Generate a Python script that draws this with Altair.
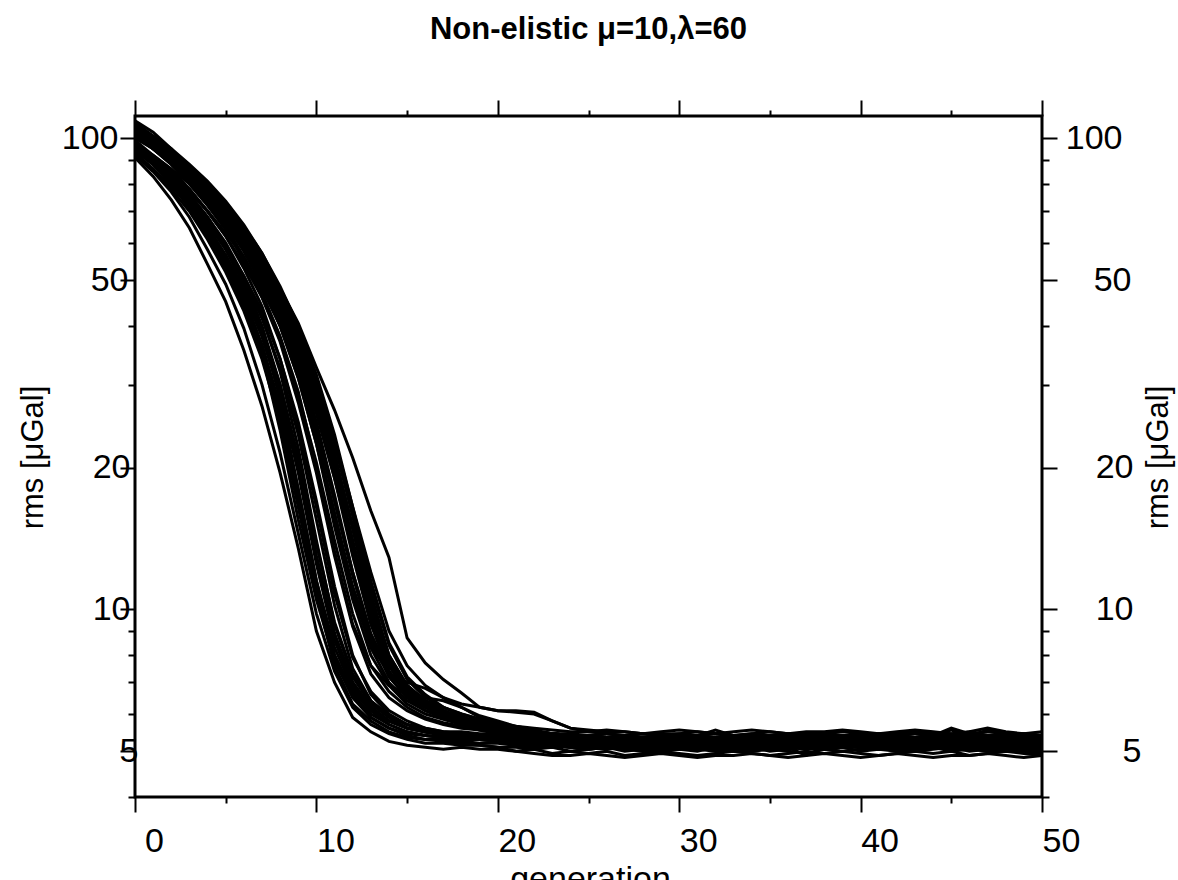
import altair as alt
import pandas as pd

FONT = "Liberation Sans"

generation = list(range(51))
x_ticks = [0, 5, 10, 15, 20, 25, 30, 35, 40, 45, 50]
y_ticks = [4, 5, 6, 7, 8, 9, 10, 20, 30, 40, 50, 60, 70, 80, 90, 100]

run01 = [91, 83, 74, 64.5, 54, 45, 35.5, 27, 19.5, 13.5, 9.0, 7.0, 5.9, 5.5, 5.25, 5.15, 5.1, 5.05, 5.1, 5.05,
         5.05, 5.0, 5.05, 4.95, 5.0, 4.95, 5.0, 4.9, 4.95, 5.0,
         4.95, 4.9, 4.95, 5.0, 4.95, 4.9, 4.95, 5.0, 4.95, 5.0,
         4.95, 4.9, 4.95, 5.0, 4.95, 5.0, 4.9, 4.95, 5.0, 4.95, 4.9]
run02 = [93, 86, 79, 72, 64, 55, 46, 35, 24, 15.5, 10.5, 7.8, 6.6, 5.9, 5.6, 5.4, 5.3, 5.3, 5.25, 5.2,
         5.2, 5.15, 5.1, 5.15, 5.1, 5.05, 5.1, 5.15, 5.1, 5.05,
         5.1, 5.15, 5.05, 5.1, 5.1, 5.05, 5.15, 5.1, 5.05, 5.1,
         5.15, 5.1, 5.05, 5.1, 5.15, 5.1, 5.05, 5.1, 5.05, 5.1, 5.05]
run03 = [95, 88, 81, 73, 66, 58, 49, 39, 28, 18, 11.5, 8.3, 6.8, 6.1, 5.7, 5.5, 5.4, 5.35, 5.3, 5.3,
         5.25, 5.2, 5.25, 5.2, 5.15, 5.2, 5.25, 5.15, 5.2, 5.2,
         5.15, 5.2, 5.25, 5.15, 5.2, 5.15, 5.2, 5.1, 5.2, 5.25,
         5.2, 5.15, 5.2, 5.25, 5.15, 5.2, 5.2, 5.15, 5.2, 5.15, 5.1]
run04 = [97, 90, 83, 76, 68, 60, 51, 42, 32, 22, 14, 9.3, 7.2, 6.3, 5.9, 5.6, 5.5, 5.45, 5.4, 5.35,
         5.3, 5.3, 5.25, 5.2, 5.25, 5.3, 5.2, 5.25, 5.3, 5.25,
         5.2, 5.25, 5.3, 5.2, 5.25, 5.2, 5.3, 5.25, 5.2, 5.25,
         5.3, 5.25, 5.2, 5.25, 5.3, 5.25, 5.2, 5.25, 5.3, 5.2, 5.25]
run05 = [99, 92, 86, 78, 70, 62, 53, 44, 34, 24.5, 16.5, 10.8, 7.9, 6.7, 6.1, 5.8, 5.6, 5.5, 5.45, 5.4,
         5.35, 5.3, 5.35, 5.3, 5.25, 5.3, 5.35, 5.3, 5.25, 5.3,
         5.35, 5.3, 5.25, 5.3, 5.35, 5.25, 5.3, 5.3, 5.25, 5.3,
         5.35, 5.3, 5.25, 5.3, 5.3, 5.35, 5.3, 5.25, 5.3, 5.35, 5.3]
run06 = [97, 89, 81, 73, 64, 56, 47, 38, 28.5, 19.5, 12.5, 8.6, 6.9, 6.2, 5.8, 5.6, 5.5, 5.45, 5.45, 5.4,
         5.4, 5.35, 5.3, 5.25, 5.2, 5.25, 5.2, 5.15, 5.2, 5.25,
         5.2, 5.15, 5.2, 5.2, 5.15, 5.25, 5.2, 5.15, 5.2, 5.2,
         5.25, 5.2, 5.15, 5.2, 5.2, 5.25, 5.2, 5.15, 5.2, 5.2, 5.15]
run07 = [102, 95, 88, 80, 72, 64, 55, 46, 37, 27.5, 19.5, 13, 9.2, 7.3, 6.5, 6.1, 5.85, 5.7, 5.6, 5.55,
         5.5, 5.45, 5.4, 5.4, 5.35, 5.4, 5.35, 5.3, 5.35, 5.4,
         5.35, 5.3, 5.35, 5.4, 5.35, 5.3, 5.35, 5.35, 5.3, 5.35,
         5.4, 5.35, 5.3, 5.35, 5.4, 5.3, 5.35, 5.35, 5.3, 5.35, 5.3]
run08 = [98, 91, 85, 78, 70, 62, 54, 46, 37.5, 28.5, 20.5, 14, 9.8, 7.6, 6.7, 6.2, 5.9, 5.75, 5.65, 5.55,
         5.5, 5.4, 5.35, 5.3, 5.2, 5.15, 5.2, 5.15, 5.1, 5.15,
         5.2, 5.1, 5.15, 5.2, 5.1, 5.15, 5.1, 5.05, 5.15, 5.1,
         5.15, 5.2, 5.1, 5.15, 5.1, 5.15, 5.2, 5.1, 5.15, 5.1, 5.05]
run09 = [104, 98, 92, 85, 78, 70, 62, 54, 45.5, 37, 28.5, 21, 15, 10.5, 7.9, 6.8, 6.3, 6.0, 5.8, 5.65,
         5.5, 5.45, 5.4, 5.35, 5.3, 5.3, 5.25, 5.3, 5.25, 5.2,
         5.25, 5.3, 5.25, 5.2, 5.25, 5.3, 5.2, 5.25, 5.3, 5.25,
         5.2, 5.25, 5.3, 5.25, 5.2, 5.25, 5.2, 5.3, 5.25, 5.2, 5.25]
run10 = [101, 95, 89, 82, 75, 67, 59, 50, 41, 32, 23, 16, 11, 8.3, 7.0, 6.4, 6.1, 5.9, 5.75, 5.65,
         5.55, 5.5, 5.45, 5.45, 5.4, 5.4, 5.35, 5.4, 5.45, 5.4,
         5.35, 5.4, 5.55, 5.4, 5.35, 5.4, 5.45, 5.4, 5.35, 5.4,
         5.4, 5.45, 5.4, 5.35, 5.4, 5.6, 5.45, 5.4, 5.45, 5.4, 5.35]
run11 = [106, 99, 92, 85, 77, 69, 60, 51, 42, 33, 24.5, 17, 11.8, 8.7, 7.2, 6.5, 6.2, 5.95, 5.8, 5.7,
         5.6, 5.5, 5.45, 5.4, 5.35, 5.3, 5.35, 5.3, 5.3, 5.25,
         5.3, 5.35, 5.3, 5.25, 5.3, 5.35, 5.3, 5.25, 5.3, 5.35,
         5.3, 5.3, 5.25, 5.3, 5.35, 5.3, 5.25, 5.3, 5.35, 5.3, 5.25]
run12 = [96, 90, 84, 77, 70, 63, 56, 48, 40, 31, 22.5, 15, 10.5, 8.0, 6.9, 6.3, 6.0, 5.85, 5.7, 5.6,
         5.5, 5.4, 5.3, 5.25, 5.2, 5.2, 5.15, 5.1, 5.15, 5.2,
         5.15, 5.1, 5.15, 5.1, 5.2, 5.15, 5.1, 4.9, 5.1, 5.15,
         5.2, 5.15, 5.1, 5.15, 5.2, 5.1, 5.15, 5.1, 5.15, 5.2, 5.1]
run13 = [99, 91, 83, 74, 65, 55, 46, 36.5, 27, 18, 11.5, 8.0, 6.6, 6.0, 5.7, 5.5, 5.4, 5.35, 5.35, 5.3,
         5.3, 5.25, 5.2, 5.15, 5.1, 5.05, 5.1, 5.05, 5.0, 5.05,
         5.1, 5.05, 5.0, 5.05, 5.1, 5.0, 5.05, 5.1, 5.05, 5.0,
         5.05, 5.1, 5.05, 5.0, 5.05, 5.1, 5.0, 5.05, 5.0, 5.05, 5.0]
run14 = [102, 96, 90, 84, 77, 69.5, 61.5, 53, 44.5, 36, 27.5, 20, 14, 9.8, 7.6, 6.7, 6.3, 6.0, 5.8, 5.65,
         5.5, 5.45, 5.4, 5.35, 5.3, 5.25, 5.3, 5.25, 5.2, 5.25,
         5.3, 5.2, 5.25, 5.3, 5.25, 5.2, 5.25, 5.3, 5.2, 5.25,
         5.25, 5.3, 5.2, 5.25, 5.3, 5.25, 5.2, 5.25, 5.3, 5.25, 5.2]
run15 = [94, 88, 81, 74, 67, 59, 51, 43, 34, 25, 17, 11.2, 8.0, 6.6, 6.0, 5.7, 5.5, 5.4, 5.35, 5.3,
         5.25, 5.2, 5.15, 5.1, 5.15, 5.1, 5.05, 5.1, 5.15, 5.1,
         5.05, 5.1, 5.15, 5.05, 5.1, 5.1, 5.15, 5.05, 5.1, 5.15,
         5.1, 5.05, 5.1, 5.15, 5.1, 5.05, 5.1, 5.1, 5.05, 5.1, 5.15]
run16 = [96, 88, 80, 71, 62, 53, 44, 35, 25.5, 16.8, 10.8, 7.6, 6.3, 5.8, 5.5, 5.35, 5.3, 5.25, 5.2, 5.15,
         5.1, 5.0, 4.95, 4.9, 4.9, 4.95, 4.9, 4.85, 4.9, 4.95,
         4.9, 4.85, 4.9, 4.9, 4.95, 4.9, 4.85, 4.9, 4.95, 4.9,
         4.85, 4.9, 4.95, 4.9, 4.85, 4.9, 4.9, 4.95, 4.9, 4.85, 4.9]
run17 = [105, 98, 91, 84, 76, 68, 60, 51, 42.5, 34, 26, 19, 13.5, 9.6, 7.6, 6.7, 6.3, 6.0, 5.85, 5.75,
         5.65, 5.55, 5.5, 5.45, 5.4, 5.4, 5.35, 5.4, 5.35, 5.3,
         5.35, 5.4, 5.35, 5.3, 5.35, 5.4, 5.35, 5.3, 5.35, 5.35,
         5.4, 5.35, 5.3, 5.35, 5.4, 5.35, 5.3, 5.35, 5.4, 5.35, 5.3]
run18 = [108, 101, 94, 87, 80, 72, 64, 55, 46, 37, 28.5, 21, 15, 10.5, 8.0, 6.9, 6.4, 6.1, 5.9, 5.8,
         5.7, 5.6, 5.5, 5.45, 5.4, 5.35, 5.3, 5.35, 5.3, 5.25,
         5.3, 5.35, 5.3, 5.25, 5.3, 5.3, 5.35, 5.25, 5.3, 5.35,
         5.3, 5.25, 5.3, 5.35, 5.3, 5.25, 5.3, 5.35, 5.3, 5.25, 5.3]
run19 = [107, 101, 94, 87, 80, 73, 65, 57, 48, 38, 30, 23, 16.5, 12, 9.0, 7.6, 6.9, 6.5, 6.2, 5.95,
         5.8, 5.65, 5.55, 5.45, 5.4, 5.35, 5.3, 5.25, 5.2, 5.25,
         5.2, 5.15, 5.2, 5.25, 5.2, 5.15, 5.2, 5.2, 5.25, 5.2,
         5.15, 5.2, 5.25, 5.2, 5.15, 5.2, 5.25, 5.2, 5.15, 5.2, 5.2]
run20 = [109, 103, 95, 86, 79, 71, 63, 55.5, 48, 40.5, 32.6, 26.5, 21, 16.2, 12.9, 8.7, 7.7, 7.1, 6.65, 6.2,
         6.1, 6.1, 6.05, 5.8, 5.6, 5.55, 5.5, 5.5, 5.45, 5.45,
         5.45, 5.5, 5.45, 5.4, 5.45, 5.5, 5.45, 5.4, 5.45, 5.5,
         5.45, 5.4, 5.45, 5.5, 5.45, 5.4, 5.45, 5.5, 5.45, 5.45, 5.4]
run21 = [92, 85, 77, 68, 58, 49, 39.5, 30, 21.5, 14.5, 9.8, 7.4, 6.2, 5.7, 5.45, 5.3, 5.2, 5.2, 5.15, 5.15,
         5.1, 5.1, 5.05, 5.1, 5.0, 5.05, 5.1, 5.0, 5.05, 5.0,
         5.05, 5.0, 5.1, 5.05, 5.0, 5.05, 5.0, 4.95, 5.05, 5.1,
         5.0, 5.05, 5.0, 5.05, 5.1, 5.0, 5.05, 5.0, 5.05, 5.0, 4.95]
run22 = [97, 91, 84, 76, 68, 59, 50, 40, 30, 20.5, 13, 8.8, 7.0, 6.2, 5.8, 5.6, 5.5, 5.4, 5.35, 5.3,
         5.25, 5.2, 5.2, 5.15, 5.1, 5.15, 5.2, 5.15, 5.1, 5.15,
         5.2, 5.15, 5.1, 5.15, 5.15, 5.2, 5.1, 5.15, 5.2, 5.15,
         5.1, 5.15, 5.2, 5.15, 5.1, 5.15, 5.2, 5.15, 5.1, 5.15, 5.1]
run23 = [106, 100, 94, 87, 80, 72.5, 64.5, 56, 47.5, 39, 30.5, 22.5, 15.8, 10.8, 8.0, 6.9, 6.4, 6.0, 5.75, 5.55,
         5.45, 5.4, 5.4, 5.35, 5.3, 5.35, 5.3, 5.25, 5.3, 5.35,
         5.3, 5.25, 5.3, 5.35, 5.3, 5.25, 5.3, 5.35, 5.3, 5.3,
         5.35, 5.3, 5.25, 5.3, 5.35, 5.3, 5.3, 5.25, 5.3, 5.35, 5.3]
run24 = [95, 88, 80, 72, 63, 54, 45, 36, 26.5, 17.5, 11.2, 8.0, 6.7, 6.1, 5.8, 5.6, 5.5, 5.45, 5.4, 5.4,
         5.4, 5.35, 5.3, 5.25, 5.2, 5.25, 5.2, 5.15, 5.2, 5.25,
         5.2, 5.2, 5.15, 5.2, 5.25, 5.2, 5.15, 5.2, 5.2, 5.25,
         5.2, 5.15, 5.2, 5.25, 5.2, 5.15, 5.2, 5.25, 5.2, 5.15, 5.2]
run25 = [103, 97, 90, 83, 75, 67, 58, 49, 40.5, 32, 24, 17, 12, 8.9, 7.4, 6.6, 6.2, 5.95, 5.8, 5.7,
         5.6, 5.55, 5.5, 5.45, 5.45, 5.4, 5.45, 5.4, 5.35, 5.4,
         5.45, 5.4, 5.35, 5.4, 5.45, 5.4, 5.35, 5.4, 5.45, 5.4,
         5.4, 5.35, 5.4, 5.45, 5.4, 5.55, 5.4, 5.55, 5.45, 5.4, 5.4]
run26 = [93, 86, 78, 70, 61, 52, 43, 34, 25, 16.5, 10.8, 7.8, 6.5, 5.9, 5.6, 5.45, 5.4, 5.35, 5.3, 5.3,
         5.3, 5.25, 5.2, 5.15, 5.1, 5.15, 5.1, 5.05, 5.1, 5.15,
         5.1, 5.05, 5.1, 5.15, 5.1, 5.05, 5.1, 5.1, 5.05, 5.1,
         5.15, 5.1, 5.05, 5.1, 5.15, 5.1, 5.05, 5.1, 5.15, 5.1, 5.05]
run27 = [104, 97, 90, 83, 75, 67, 58, 49, 40, 31, 22.5, 15.5, 10.8, 8.4, 7.3, 7.0, 6.8, 6.5, 6.3, 6.2,
         6.1, 6.05, 6.0, 5.8, 5.6, 5.5, 5.45, 5.4, 5.45, 5.4,
         5.35, 5.4, 5.45, 5.4, 5.35, 5.4, 5.4, 5.45, 5.4, 5.35,
         5.4, 5.45, 5.4, 5.35, 5.4, 5.45, 5.4, 5.35, 5.4, 5.45, 5.4]
run28 = [101, 96, 90, 83, 76, 68.5, 60.5, 52, 43.5, 35, 26.5, 19.5, 13.8, 9.9, 7.7, 6.8, 6.4, 6.1, 5.85, 5.65,
         5.55, 5.5, 5.45, 5.4, 5.35, 5.3, 5.3, 5.25, 5.3, 5.25,
         5.2, 5.25, 5.3, 5.25, 5.2, 5.25, 5.3, 5.25, 5.2, 5.25,
         5.3, 5.25, 5.2, 5.25, 5.3, 5.25, 5.2, 5.25, 5.3, 5.25, 5.2]
run29 = [96, 89, 81, 73, 64, 55.5, 47, 38, 29, 20, 13, 8.9, 7.0, 6.2, 5.8, 5.6, 5.5, 5.45, 5.4, 5.4,
         5.35, 5.3, 5.3, 5.25, 5.2, 5.25, 5.2, 5.2, 5.15, 5.2,
         5.25, 5.2, 5.15, 5.2, 5.2, 5.25, 5.15, 5.2, 5.25, 5.2,
         5.15, 5.2, 5.2, 5.25, 5.2, 5.15, 5.2, 5.2, 5.25, 5.2, 5.15]
run30 = [107, 101, 95, 88, 81, 73.5, 65.5, 57, 48.5, 40, 31.5, 23.5, 16.5, 11.5, 8.5, 7.2, 6.6, 6.2, 5.95, 5.65,
         5.45, 5.4, 5.35, 5.35, 5.3, 5.3, 5.25, 5.3, 5.3, 5.25,
         5.3, 5.25, 5.3, 5.3, 5.25, 5.2, 5.25, 5.3, 5.25, 5.3,
         5.25, 5.3, 5.25, 5.2, 5.25, 5.3, 5.25, 5.3, 5.25, 5.2, 5.25]
run31 = [98, 90, 82, 74, 65, 56.5, 48, 39, 30, 21, 13.8, 9.4, 7.3, 6.4, 5.95, 5.7, 5.6, 5.5, 5.5, 5.45,
         5.45, 5.4, 5.35, 5.3, 5.3, 5.25, 5.3, 5.25, 5.2, 5.25,
         5.3, 5.25, 5.2, 5.25, 5.3, 5.2, 5.25, 5.3, 5.25, 5.2,
         5.25, 5.3, 5.25, 5.2, 5.25, 5.3, 5.2, 5.25, 5.3, 5.25, 5.2]
run32 = [103, 96, 89, 82, 74, 66, 57.5, 49, 40, 31.5, 23, 16, 11.2, 8.6, 7.3, 6.7, 6.5, 6.4, 6.2, 5.9,
         5.75, 5.6, 5.5, 5.45, 5.4, 5.4, 5.35, 5.35, 5.3, 5.35,
         5.4, 5.35, 5.3, 5.35, 5.4, 5.35, 5.3, 5.35, 5.4, 5.35,
         5.3, 5.35, 5.4, 5.35, 5.3, 5.35, 5.4, 5.35, 5.3, 5.35, 5.4]
run33 = [96, 89, 82, 75, 67, 59, 50, 41.5, 32.5, 23.5, 15.5, 10.2, 7.5, 6.4, 5.95, 5.7, 5.55, 5.45, 5.4, 5.35,
         5.3, 5.25, 5.2, 5.2, 5.15, 5.1, 5.15, 5.1, 5.05, 5.1,
         5.15, 5.1, 5.05, 5.1, 5.15, 5.1, 5.05, 5.1, 5.1, 5.15,
         5.1, 5.05, 5.1, 5.15, 5.1, 5.05, 5.1, 5.15, 5.1, 5.05, 5.1]
run34 = [101, 95, 88, 81, 73, 65, 56, 47, 38, 29, 20, 13.3, 9.3, 7.6, 6.9, 6.6, 6.4, 6.2, 6.0, 5.85,
         5.7, 5.6, 5.5, 5.45, 5.4, 5.35, 5.3, 5.3, 5.25, 5.3,
         5.35, 5.3, 5.25, 5.3, 5.3, 5.35, 5.3, 5.25, 5.3, 5.35,
         5.3, 5.25, 5.3, 5.35, 5.3, 5.25, 5.3, 5.3, 5.35, 5.3, 5.25]
run35 = [104, 98, 92, 85, 78, 70, 62, 54, 45, 36.5, 28, 20, 13.5, 9.5, 7.6, 6.7, 6.3, 6.0, 5.85, 5.7,
         5.6, 5.5, 5.45, 5.4, 5.35, 5.35, 5.3, 5.35, 5.3, 5.25,
         5.3, 5.35, 5.3, 5.25, 5.3, 5.3, 5.35, 5.3, 5.25, 5.3,
         5.35, 5.3, 5.25, 5.3, 5.35, 5.3, 5.25, 5.3, 5.35, 5.3, 5.25]
run36 = [106, 100, 93, 86, 79, 71.5, 63.5, 55, 46.5, 38, 29.5, 21.5, 14.8, 10.2, 7.9, 6.9, 6.4, 6.1, 5.9, 5.75,
         5.65, 5.55, 5.5, 5.45, 5.4, 5.4, 5.35, 5.3, 5.35, 5.4,
         5.35, 5.3, 5.35, 5.4, 5.35, 5.3, 5.35, 5.4, 5.35, 5.3,
         5.35, 5.4, 5.35, 5.3, 5.35, 5.4, 5.5, 5.4, 5.35, 5.4, 5.35]
run37 = [102, 96, 90, 84, 77, 70, 62.5, 54.5, 46, 37, 28.5, 20.5, 14, 9.8, 7.7, 6.8, 6.35, 6.05, 5.85, 5.7,
         5.6, 5.5, 5.4, 5.35, 5.3, 5.25, 5.2, 5.25, 5.2, 5.15,
         5.2, 5.25, 5.2, 5.15, 5.2, 5.2, 5.25, 5.15, 5.2, 5.25,
         5.2, 5.15, 5.2, 5.25, 5.2, 5.15, 5.2, 5.2, 5.25, 5.2, 5.15]
run38 = [100, 95, 89, 83, 76, 68, 60, 52, 43.5, 35, 26.5, 19, 13, 9.3, 7.4, 6.6, 6.2, 5.95, 5.8, 5.65,
         5.55, 5.45, 5.4, 5.3, 5.25, 5.2, 5.15, 5.1, 5.15, 5.1,
         5.05, 5.1, 5.15, 5.1, 5.05, 5.1, 5.15, 5.1, 5.05, 5.1,
         5.1, 5.15, 5.1, 5.05, 5.1, 5.15, 5.1, 5.05, 5.1, 5.15, 5.1]
run39 = [105, 99, 92, 85, 78, 71, 63, 55, 47, 38.5, 30, 22.5, 16, 11.2, 8.4, 7.1, 6.5, 6.2, 6.0, 5.85,
         5.75, 5.65, 5.6, 5.55, 5.5, 5.5, 5.55, 5.5, 5.45, 5.5,
         5.55, 5.5, 5.45, 5.5, 5.55, 5.5, 5.45, 5.5, 5.5, 5.55,
         5.5, 5.45, 5.5, 5.55, 5.5, 5.45, 5.5, 5.6, 5.5, 5.45, 5.5]
run40 = [97, 92, 86, 80, 73, 66, 58.5, 50.5, 42, 33.5, 25, 17.5, 12, 8.8, 7.2, 6.5, 6.1, 5.9, 5.75, 5.6,
         5.5, 5.45, 5.4, 5.35, 5.3, 5.25, 5.3, 5.25, 5.2, 5.25,
         5.3, 5.25, 5.2, 5.25, 5.25, 5.3, 5.2, 5.25, 5.3, 5.25,
         5.2, 5.25, 5.3, 5.25, 5.2, 5.25, 5.3, 5.25, 5.2, 5.25, 5.3]

runs = [run01, run02, run03, run04, run05, run06, run07, run08, run09, run10,
        run11, run12, run13, run14, run15, run16, run17, run18, run19, run20,
        run21, run22, run23, run24, run25, run26, run27, run28, run29, run30,
        run31, run32, run33, run34, run35, run36, run37, run38, run39, run40]

rows = []
for i, r in enumerate(runs):
    for g, v in zip(generation, r):
        rows.append({"run": i + 1, "generation": g, "rms": v})
df = pd.DataFrame(rows)

x_scale = alt.Scale(domain=[0, 50], nice=False, zero=False)
y_scale = alt.Scale(type="log", domain=[4, 111.5], nice=False)

x_major = "datum.value % 10 === 0"
y_major = "datum.value == 5 || datum.value == 10 || datum.value == 20 || datum.value == 50 || datum.value == 100"

x_tick_size_bottom = {"condition": {"test": x_major, "value": 15}, "value": 6}
x_tick_size_top = {"condition": {"test": x_major, "value": 16}, "value": 6}
y_tick_size = {"condition": {"test": y_major, "value": 15}, "value": 7}

left_pad = {"condition": [
    {"test": "datum.value == 100", "value": 2},
    {"test": "datum.value == 50", "value": -8},
    {"test": "datum.value == 20 || datum.value == 10", "value": -10},
], "value": -18}
right_pad = {"condition": [
    {"test": "datum.value == 100", "value": 65},
    {"test": "datum.value == 50", "value": 74},
    {"test": "datum.value == 20 || datum.value == 10", "value": 76},
], "value": 84}

common = dict(grid=False, domain=False, tickColor="black", tickWidth=2,
              labelFont=FONT, labelColor="black", labelFontSize=34,
              titleFont=FONT, titleColor="black", titleFontWeight="normal")

x_bottom = alt.Axis(orient="bottom", values=x_ticks, format="d",
                    labelExpr=x_major + " ? datum.label : ''",
                    tickSize=x_tick_size_bottom, labelPadding=12, labelOffset=19,
                    labelAlign="center", labelBaseline="top", labelFlush=False,
                    labelOverlap=False, title="generation", titleFontSize=34,
                    titleX=455, titleY=92, titleBaseline="alphabetic", titleAlign="center",
                    **common)
x_top = alt.Axis(orient="top", values=x_ticks, labels=False, tickSize=x_tick_size_top,
                 title=None, **common)
y_left = alt.Axis(orient="left", values=y_ticks,
                  labelExpr="(" + y_major + ") ? '' + datum.value : ''",
                  tickSize=y_tick_size, labelPadding=left_pad, labelAlign="right",
                  labelBaseline="middle", labelOverlap=False, labelFlush=False,
                  title="rms [μGal]", titleFontSize=31, titleAngle=270,
                  titleX=-93, titleY=341, titleBaseline="alphabetic", titleAlign="center",
                  **common)
y_right = alt.Axis(orient="right", values=y_ticks,
                   labelExpr="(" + y_major + ") ? '' + datum.value : ''",
                   tickSize=y_tick_size, labelPadding=right_pad, labelAlign="right",
                   labelBaseline="middle", labelOverlap=False, labelFlush=False,
                   title="rms [μGal]", titleFontSize=31, titleAngle=270,
                   titleX=125, titleY=341, titleBaseline="alphabetic", titleAlign="center",
                   **common)

lines = alt.Chart(df).mark_line(color="black", strokeWidth=3, clip=True).encode(
    x=alt.X("generation:Q", scale=x_scale, axis=x_bottom),
    y=alt.Y("rms:Q", scale=y_scale, axis=y_left),
    detail="run:N",
)
ghost = alt.Chart(df).mark_line(color="black", strokeOpacity=0, clip=True).encode(
    x=alt.X("generation:Q", scale=x_scale, axis=x_top),
    y=alt.Y("rms:Q", scale=y_scale, axis=y_right),
    detail="run:N",
)

chart = alt.layer(lines, ghost).resolve_axis(x="independent", y="independent").properties(
    width=907,
    height=681,
    background="white",
    padding={"left": 135, "top": 116, "right": 136, "bottom": 83},
    autosize=alt.AutoSizeParams(type="none"),
    title=alt.TitleParams("Non-elistic μ=10,λ=60", font=FONT, fontSize=31, fontWeight="bold",
                          color="black", anchor="middle", frame="group", offset=29,
                          baseline="alphabetic"),
).configure_view(stroke="black", strokeWidth=3)

chart.save("out.html", embed_options={"renderer": "svg", "actions": False})
